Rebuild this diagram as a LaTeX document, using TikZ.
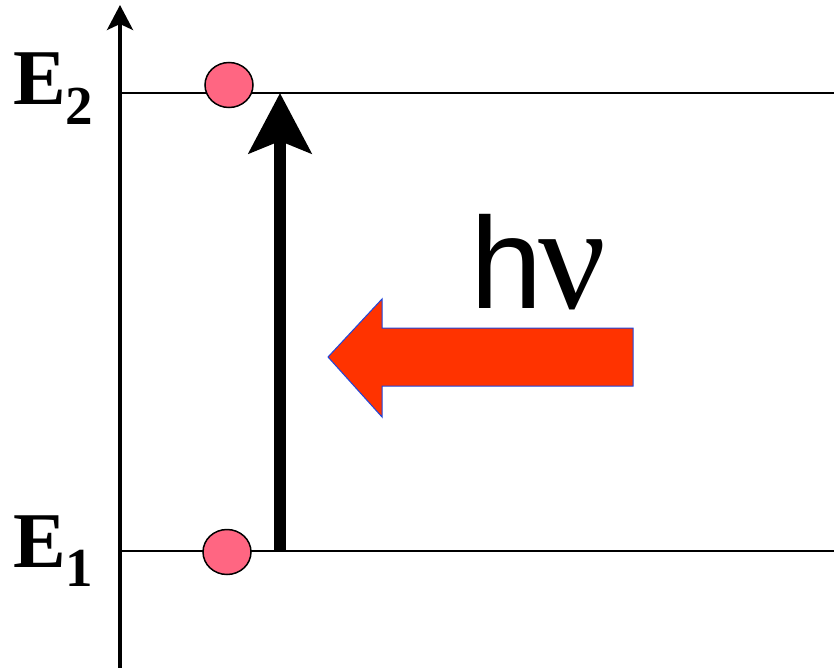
\documentclass[tikz,border=0pt]{standalone}
\usepackage{fontspec}
\setmainfont{Liberation Serif}
\newfontfamily\hvfont{Liberation Sans}
\newfontfamily\nufont{Liberation Serif}
\usepackage{xcolor}
\usetikzlibrary{arrows.meta,positioning,shapes.geometric}

\definecolor{electronpink}{RGB}{255,102,130}
\definecolor{photonred}{RGB}{255,51,0}
\definecolor{photonedge}{RGB}{30,70,220}

\begin{document}
\begin{tikzpicture}[
    x=1pt, y=-1pt,
    level/.style={line width=1.5pt},
    axis/.style={line width=3.5pt, -{Stealth[width=26pt,length=25pt,inset=6pt]}},
    jump/.style={line width=12pt, -{Stealth[width=62pt,length=60pt,inset=12pt]}},
    electron/.style={ellipse, draw, line width=1.5pt, fill=electronpink,
                     minimum width=48pt, minimum height=45pt, inner sep=0pt},
    elabel/.style={anchor=base west, inner sep=0pt,
                   font=\fontsize{79}{79}\selectfont\bfseries},
  ]
  \useasboundingbox (0,0) rectangle (834,668);

  % energy axis
  \coordinate (axbot) at (120,668);
  \coordinate (axtop) at (120,5);
  \draw[axis] (axbot) -- (axtop);

  % levels
  \coordinate (lvl2a) at (120,93);
  \coordinate (lvl2b) at (834,93);
  \coordinate (lvl1a) at (120,551);
  \coordinate (lvl1b) at (834,551);
  \draw[level] (lvl2a) -- (lvl2b);
  \draw[level] (lvl1a) -- (lvl1b);

  \node[elabel] (e2lbl) at (13,105)
    {E\raisebox{-20pt}{\fontsize{55}{55}\selectfont 2}};
  \node[elabel] (e1lbl) at (13,567)
    {E\raisebox{-19pt}{\fontsize{55}{55}\selectfont 1}};

  % electrons
  \node[electron] (el2) at (229,85) {};
  \node[electron] (el1) at (227,552) {};

  % absorption
  \coordinate (jbot) at (280,551);
  \coordinate (jtop) at (280,93);
  \draw[jump] (jbot) -- (jtop);

  % photon
  \fill[photonred, draw=photonedge, line width=1pt]
    (633,328) -- (382,328) -- (382,299) -- (328,357) -- (382,417)
    -- (382,386) -- (633,386) -- cycle;
  \node[anchor=base west, inner sep=0pt,
        font=\hvfont\fontsize{130}{130}\selectfont] (hnu) at (470,308)
    {h\kern-4pt{\nufont\fontsize{150}{150}\selectfont ν}};

\end{tikzpicture}
\end{document}
